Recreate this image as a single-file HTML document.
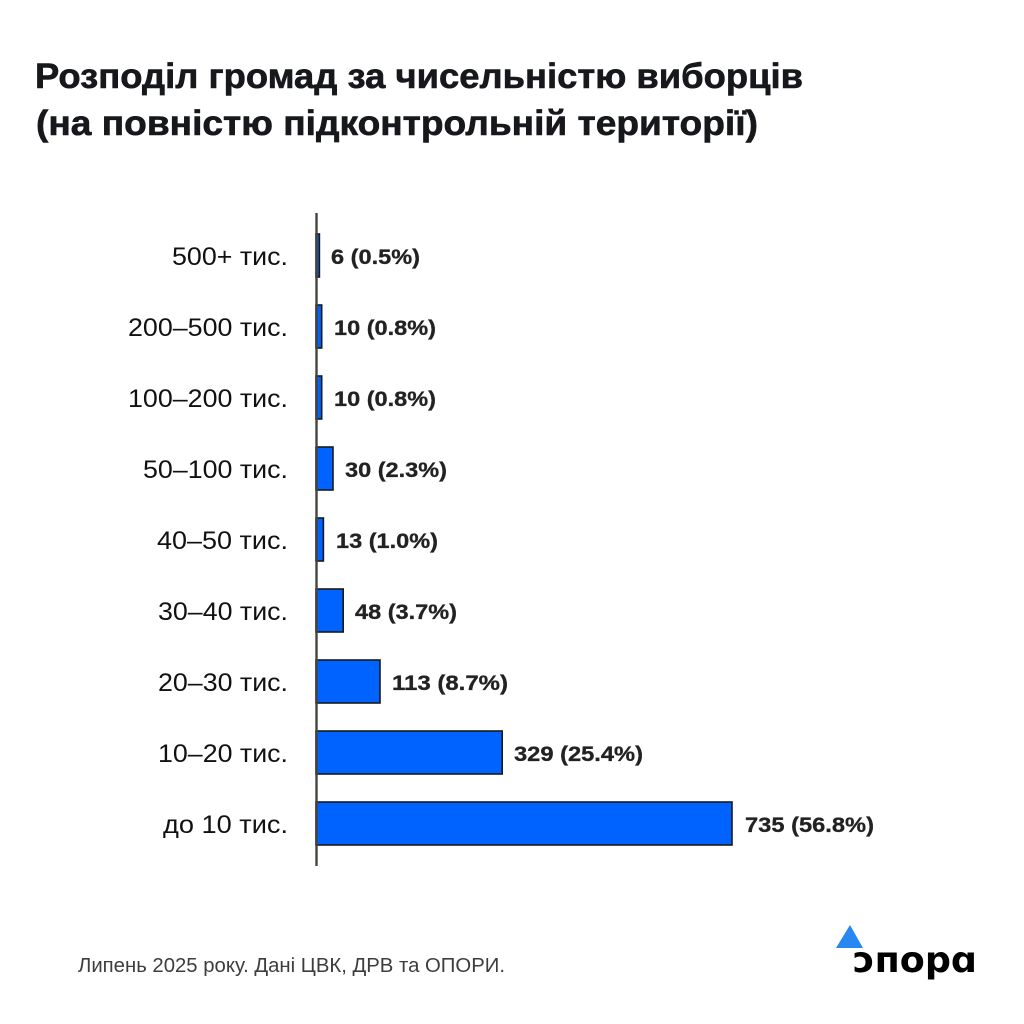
<!DOCTYPE html>
<html>
<head>
<meta charset="utf-8">
<style>
  html, body { margin: 0; padding: 0; background: #ffffff; }
  svg { display: block; }
</style>
</head>
<body>
<svg width="1024" height="1024" viewBox="0 0 1024 1024" xmlns="http://www.w3.org/2000/svg">
  <rect x="0" y="0" width="1024" height="1024" fill="#ffffff"/>

  <!-- Title -->
  <g font-family="'Liberation Sans', 'DejaVu Sans', sans-serif" font-weight="700" font-size="35" fill="#16181b" stroke="#16181b" stroke-width="0.6">
    <text x="35" y="88" textLength="768" lengthAdjust="spacingAndGlyphs">Розподіл громад за чисельністю виборців</text>
    <text x="36" y="135" textLength="722" lengthAdjust="spacingAndGlyphs">(на повністю підконтрольній території)</text>
  </g>

  <!-- Bars -->
  <g fill="#0062ff" stroke="#1a1a1a" stroke-width="1.6">
    <rect x="316" y="234" width="3.4" height="43"/>
    <rect x="316" y="305" width="5.7" height="43"/>
    <rect x="316" y="376" width="5.7" height="43"/>
    <rect x="316" y="447" width="17" height="43"/>
    <rect x="316" y="518" width="7.4" height="43"/>
    <rect x="316" y="589" width="27.2" height="43"/>
    <rect x="316" y="660" width="64" height="43"/>
    <rect x="316" y="731" width="186.2" height="43"/>
    <rect x="316" y="802" width="416" height="43"/>
  </g>

  <!-- Axis -->
  <line x1="316.5" y1="213" x2="316.5" y2="866" stroke="#45453f" stroke-width="2.4"/>

  <!-- Category labels -->
  <g font-family="'Liberation Sans', 'DejaVu Sans', sans-serif" font-size="25" fill="#111111" text-anchor="end">
    <text x="288" y="265" textLength="116" lengthAdjust="spacingAndGlyphs">500+ тис.</text>
    <text x="288" y="336" textLength="160" lengthAdjust="spacingAndGlyphs">200–500 тис.</text>
    <text x="288" y="407" textLength="160" lengthAdjust="spacingAndGlyphs">100–200 тис.</text>
    <text x="288" y="478" textLength="145" lengthAdjust="spacingAndGlyphs">50–100 тис.</text>
    <text x="288" y="549" textLength="131" lengthAdjust="spacingAndGlyphs">40–50 тис.</text>
    <text x="288" y="620" textLength="130" lengthAdjust="spacingAndGlyphs">30–40 тис.</text>
    <text x="288" y="691" textLength="130" lengthAdjust="spacingAndGlyphs">20–30 тис.</text>
    <text x="288" y="762" textLength="130" lengthAdjust="spacingAndGlyphs">10–20 тис.</text>
    <text x="288" y="833" textLength="125" lengthAdjust="spacingAndGlyphs">до 10 тис.</text>
  </g>

  <!-- Value labels -->
  <g font-family="'Liberation Sans', 'DejaVu Sans', sans-serif" font-weight="700" font-size="21" fill="#222222" stroke="#222222" stroke-width="0.3">
    <text x="331" y="264" textLength="89" lengthAdjust="spacingAndGlyphs">6 (0.5%)</text>
    <text x="334" y="335" textLength="102" lengthAdjust="spacingAndGlyphs">10 (0.8%)</text>
    <text x="334" y="406" textLength="102" lengthAdjust="spacingAndGlyphs">10 (0.8%)</text>
    <text x="345" y="477" textLength="102" lengthAdjust="spacingAndGlyphs">30 (2.3%)</text>
    <text x="336" y="548" textLength="102" lengthAdjust="spacingAndGlyphs">13 (1.0%)</text>
    <text x="355" y="619" textLength="102" lengthAdjust="spacingAndGlyphs">48 (3.7%)</text>
    <text x="392" y="690" textLength="116" lengthAdjust="spacingAndGlyphs">113 (8.7%)</text>
    <text x="514" y="761" textLength="129" lengthAdjust="spacingAndGlyphs">329 (25.4%)</text>
    <text x="745" y="832" textLength="129" lengthAdjust="spacingAndGlyphs">735 (56.8%)</text>
  </g>

  <!-- Footer -->
  <text x="78" y="972" font-family="'Liberation Sans', 'DejaVu Sans', sans-serif" font-size="20" fill="#3d3d3d" textLength="427" lengthAdjust="spacingAndGlyphs">Липень 2025 року. Дані ЦВК, ДРВ та ОПОРИ.</text>

  <!-- Logo -->
  <polygon points="836,948 850,925 863,948" fill="#2688f0"/>
  <text x="853" y="972" font-family="'DejaVu Sans', 'Liberation Sans', sans-serif" font-weight="700" font-size="36" fill="#000000" textLength="124" lengthAdjust="spacingAndGlyphs">ɔпорɑ</text>
</svg>
</body>
</html>
